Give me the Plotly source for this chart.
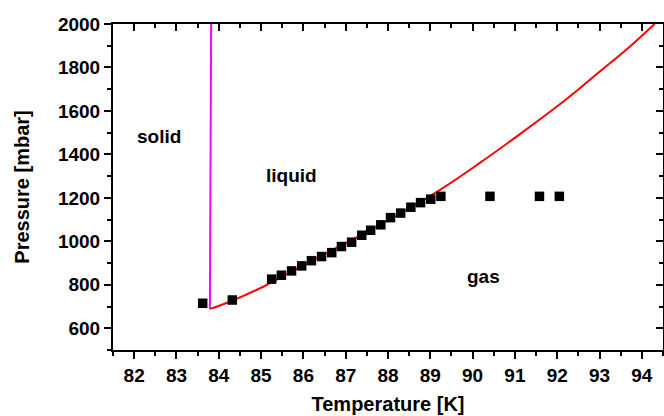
import plotly.graph_objects as go

# measured data points (squares)
temp_data = [83.62, 84.32, 85.25, 85.48, 85.72, 85.96, 86.19, 86.43, 86.67, 86.90, 87.14,
             87.38, 87.59, 87.83, 88.06, 88.30, 88.54, 88.77, 89.01, 89.25, 90.41, 91.58, 92.05]
pres_data = [715, 730, 826, 844, 864, 887, 911, 930, 948, 976, 996,
             1028, 1051, 1076, 1109, 1130, 1157, 1178, 1194, 1207, 1207, 1207, 1207]

# liquid-gas coexistence curve (red)
curve_T = [83.79, 84.26, 85.05, 86.23, 87.81, 89.23, 90.18, 91.2, 92.23, 93.0, 93.7, 94.3]
curve_P = [689, 722, 791, 914, 1076, 1237, 1362, 1505, 1656, 1780, 1893, 2000]

# solid-liquid melting line (magenta)
melt_T = [83.79, 83.82]
melt_P = [689, 2000]

# phase labels
phase_labels = ["solid", "liquid", "gas"]
phase_T = [82.58, 85.72, 90.25]
phase_P = [1481, 1301, 836]

x_range = [81.5, 94.5]
y_range = [500, 2000]

FONT = "Liberation Sans, Arial, sans-serif"

fig = go.Figure()
fig.add_trace(go.Scatter(x=melt_T, y=melt_P, mode="lines",
                         line=dict(color="#FF00FF", width=2), showlegend=False))
fig.add_trace(go.Scatter(x=curve_T, y=curve_P, mode="lines",
                         line=dict(color="#FF0000", width=2, shape="spline"), showlegend=False))
fig.add_trace(go.Scatter(x=temp_data, y=pres_data, mode="markers",
                         marker=dict(symbol="square", size=9.5, color="black"), showlegend=False))
# dummy trace to anchor mirrored axes
fig.add_trace(go.Scatter(x=[None], y=[None], xaxis="x2", yaxis="y2", showlegend=False))

for txt, t, p in zip(phase_labels, phase_T, phase_P):
    fig.add_annotation(x=t, y=p, text=txt, showarrow=False,
                       font=dict(family=FONT, size=19, color="black", weight="bold"))

axis_common = dict(showgrid=False, zeroline=False, showline=True, linecolor="black",
                   linewidth=2, tickcolor="black", tickwidth=2)

fig.update_layout(
    width=664, height=416,
    margin=dict(l=113, r=1, t=24, b=66),
    plot_bgcolor="white", paper_bgcolor="white",
    xaxis=dict(range=x_range, dtick=1, tick0=82, ticks="outside", ticklen=7,
               minor=dict(dtick=0.5, ticks="outside", ticklen=4, tickcolor="black", tickwidth=2),
               tickfont=dict(family=FONT, size=19, color="black", weight="bold"),
               title=dict(text="Temperature [K]", standoff=12,
                          font=dict(family=FONT, size=20, color="black", weight="bold")),
               **axis_common),
    yaxis=dict(range=y_range, dtick=200, tick0=0, ticks="outside", ticklen=7,
               minor=dict(dtick=100, ticks="outside", ticklen=4, tickcolor="black", tickwidth=2),
               tickfont=dict(family=FONT, size=19, color="black", weight="bold"),
               title=dict(text="Pressure [mbar]", standoff=23,
                          font=dict(family=FONT, size=20, color="black", weight="bold")),
               **axis_common),
    xaxis2=dict(range=x_range, overlaying="x", side="top", dtick=1, tick0=82,
                ticks="inside", ticklen=7, showticklabels=False,
                minor=dict(dtick=0.5, ticks="inside", ticklen=4, tickcolor="black", tickwidth=2),
                **axis_common),
    yaxis2=dict(range=y_range, overlaying="y", side="right", dtick=200, tick0=0,
                ticks="inside", ticklen=7, showticklabels=False,
                minor=dict(dtick=100, ticks="inside", ticklen=4, tickcolor="black", tickwidth=2),
                **axis_common),
)

fig.write_html("out.html")
